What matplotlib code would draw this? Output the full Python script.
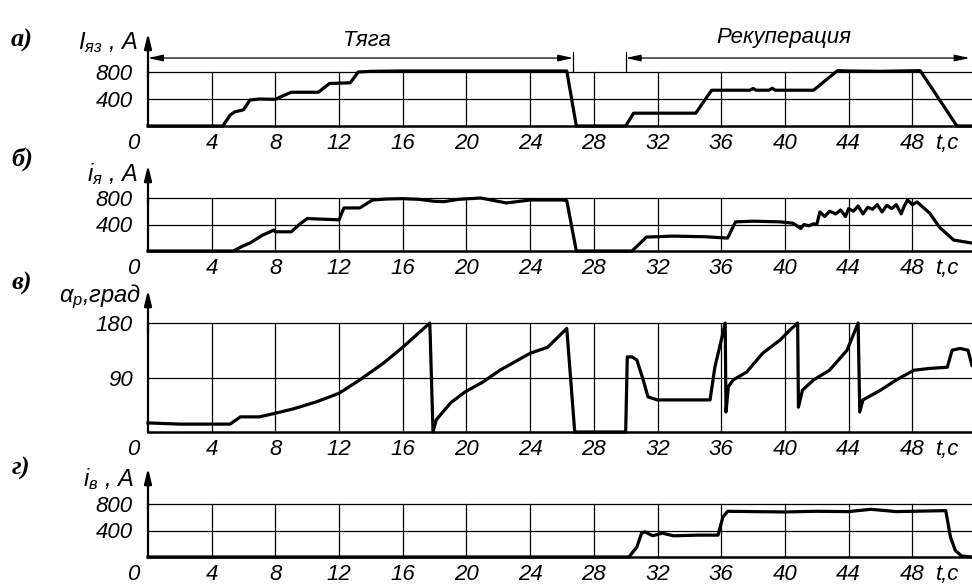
import matplotlib
matplotlib.use("Agg")
import matplotlib.pyplot as plt

# Шрифты: курсив, близкий к чертежному шрифту
plt.rcParams['font.family'] = ['Liberation Sans', 'DejaVu Sans']
plt.rcParams['font.style'] = 'italic'
plt.rcParams['mathtext.fontset'] = 'custom'
plt.rcParams['mathtext.it'] = 'Liberation Sans:italic'
plt.rcParams['mathtext.rm'] = 'Liberation Sans:italic'

# а) ток якоря заданный I_яз, A
a_t = [0, 4.7, 5.15, 5.45, 6.0, 6.4, 7.0, 8.0, 8.5, 9.0, 10.7, 11.4, 12.7, 13.2,
       14, 16, 20, 24, 26.3, 26.9, 30.0, 30.5, 34.4, 35.4, 37.8, 38.0, 38.2,
       39.0, 39.2, 39.4, 41.8, 43.3, 44, 46, 48.5, 50.8, 51.75]
a_v = [0, 0, 160, 210, 240, 385, 400, 395, 450, 500, 500, 630, 640, 800,
       810, 815, 815, 815, 815, 0, 0, 190, 190, 530, 530, 555, 530,
       530, 560, 530, 530, 820, 815, 810, 820, 0, 0]

# б) ток якоря i_я, A
b_t = [0, 5.35, 6.0, 6.4, 7.2, 7.9, 8.0, 9.0, 9.5, 10.0, 11.0, 12.0, 12.3, 13.3,
       14.1, 15, 16, 17, 18, 18.6, 19.5, 20.9, 22.5, 24, 26.0, 26.3, 26.9,
       30.4, 31.3, 33, 35, 36.4, 36.9, 38, 39.7, 40.5, 41.0, 41.2, 41.5, 41.8,
       42.0, 42.2, 42.5, 42.8, 43.2, 43.5, 43.8, 44.0, 44.3, 44.6, 44.9, 45.2,
       45.5, 45.8, 46.1, 46.4, 46.7, 47.0, 47.3, 47.5, 47.7, 48.0, 48.3, 49.1,
       49.7, 50.6, 51.75]
b_v = [0, 0, 80, 120, 240, 315, 290, 290, 400, 490, 480, 470, 650, 650,
       770, 785, 790, 780, 750, 745, 780, 800, 725, 770, 770, 760, 0,
       0, 210, 225, 215, 195, 440, 450, 440, 420, 340, 400, 380, 410,
       400, 590, 520, 600, 560, 620, 520, 640, 600, 680, 560, 660,
       630, 700, 590, 690, 640, 700, 560, 680, 770, 700, 740, 570,
       360, 165, 120]

# в) угол регулирования alpha_p, град
c_t = [0, 2, 4, 5.15, 5.8, 7.0, 8.0, 9.1, 10.6, 12.0, 13.3, 14.8, 16.0, 17.7,
       17.8, 17.9, 18.1, 19.0, 19.9, 21.0, 22.1, 24.0, 25.1, 26.3, 26.8,
       30.0, 30.1, 30.4, 30.7, 31.1, 31.4, 32.0, 35.3, 35.6, 36.05, 36.25,
       36.3, 36.45, 36.75, 37.6, 38.6, 39.7, 40.3, 40.8, 40.85, 41.1, 41.8,
       42.8, 43.9, 44.6, 44.7, 44.9, 46.0, 47.0, 48.1, 49.1, 50.2, 50.5,
       51.0, 51.5, 51.75]
c_v = [15, 13, 13, 13, 25, 25, 31, 38, 50, 64, 86, 114, 140, 180,
       90, 0, 20, 48, 66, 82, 102, 130, 140, 171, 0,
       0, 124, 124, 119, 86, 58, 53, 53, 107, 157, 180,
       33, 75, 86, 99, 130, 152, 168, 180, 41, 69, 86,
       102, 135, 180, 33, 53, 69, 86, 102, 105, 107, 135,
       138, 135, 110]

# г) ток возбуждения i_в, A
d_t = [0, 30.2, 30.7, 31.0, 31.2, 31.7, 32.3, 33.0, 34.5, 35.8, 36.1, 36.4,
       38, 40, 42, 44, 45.4, 47, 50.1, 50.4, 50.7, 51.1, 51.75]
d_v = [0, 0, 150, 360, 380, 320, 360, 320, 330, 330, 600, 690,
       685, 680, 690, 685, 720, 685, 700, 300, 100, 15, 0]

x_ticks = [4, 8, 12, 16, 20, 24, 28, 32, 36, 40, 44, 48]

fig = plt.figure(figsize=(9.72, 5.85), dpi=100, facecolor='white')
W, H = 972.0, 585.0
FS = 16


def make_axes(top_px, bottom_px, ytop, yticks, arrow_px):
    ax = fig.add_axes([148 / W, 1 - bottom_px / H, 824 / W, (bottom_px - top_px) / H])
    ax.set_xlim(0, 51.75)
    ax.set_ylim(0, ytop)
    for s in ['top', 'right']:
        ax.spines[s].set_visible(False)
    ax.spines['left'].set_linewidth(1.6)
    ax.spines['bottom'].set_linewidth(1.8)
    ax.set_xticks(x_ticks)
    ax.set_yticks(yticks)
    ax.tick_params(length=0, labelsize=FS, pad=5)
    ax.tick_params(axis='y', pad=11)
    for x in x_ticks:
        ax.plot([x, x], [0, ytop], color='black', lw=0.9, clip_on=False)
    for y in yticks:
        ax.plot([0, 51.75], [y, y], color='black', lw=0.9, clip_on=False)
    # стрелка оси ординат
    arrow_val = (bottom_px - arrow_px) / (bottom_px - top_px) * ytop
    ax.annotate('', xy=(0, arrow_val), xytext=(0, ytop * 0.9),
                arrowprops=dict(arrowstyle='-|>,head_length=0.9,head_width=0.22',
                                color='black', lw=1.6, shrinkA=0, shrinkB=0),
                annotation_clip=False)
    # начало координат "0" и обозначение оси времени
    ax.annotate('0', xy=(0, 0), xytext=(-11, -5), textcoords='offset points',
                ha='center', va='top', fontsize=FS, annotation_clip=False)
    ax.annotate('t,c', xy=(50.2, 0), xytext=(0, -5), textcoords='offset points',
                ha='center', va='top', fontsize=FS, annotation_clip=False)
    return ax


ax1 = make_axes(72, 126, 800, [400, 800], 33)
ax1.plot(a_t, a_v, color='black', lw=2.3, clip_on=False)

ax2 = make_axes(198, 251, 800, [400, 800], 165)
ax2.plot(b_t, b_v, color='black', lw=2.3, clip_on=False)

ax3 = make_axes(323, 432, 180, [90, 180], 290)
ax3.plot(c_t, c_v, color='black', lw=2.3, clip_on=False)

ax4 = make_axes(504, 557, 800, [400, 800], 468)
ax4.plot(d_t, d_v, color='black', lw=2.3, clip_on=False)

# Режимы: тяга и рекуперация
arr = dict(arrowstyle='<|-|>,head_length=0.9,head_width=0.2', color='black',
           lw=0.9, shrinkA=0, shrinkB=0)
ax1.annotate('', xy=(0, 1007), xytext=(26.7, 1007), arrowprops=arr,
             annotation_clip=False)
ax1.annotate('', xy=(30.0, 1007), xytext=(51.6, 1007), arrowprops=arr,
             annotation_clip=False)
ax1.plot([26.7, 26.7], [800, 1096], color='black', lw=0.9, clip_on=False)
ax1.plot([30.0, 30.0], [800, 1096], color='black', lw=0.9, clip_on=False)
ax1.text(13.75, 1274, 'Тяга', ha='center', va='center', fontsize=FS)
ax1.text(39.9, 1304, 'Рекуперация', ha='center', va='center', fontsize=FS)

# подписи осей
lab = dict(ha='right', va='center', fontsize=17)
fig.text(138 / W, 1 - 43 / H, r'$I_{яз}$ , A', **lab)
fig.text(138 / W, 1 - 174 / H, r'$i_{я}$ , A', **lab)
fig.text(141 / W, 1 - 297 / H, r'$\alpha_{p}$,град', **lab)
fig.text(134 / W, 1 - 479 / H, r'$i_{в}$ , A', **lab)

# буквы панелей
pl = dict(ha='center', va='center', fontsize=19, family='Liberation Serif',
          weight='bold', style='italic')
fig.text(22 / W, 1 - 40 / H, 'а)', **pl)
fig.text(22 / W, 1 - 159 / H, 'б)', **pl)
fig.text(22 / W, 1 - 283 / H, 'в)', **pl)
fig.text(21 / W, 1 - 468 / H, 'г)', **pl)

fig.savefig('out.png', dpi=100, facecolor='white')
